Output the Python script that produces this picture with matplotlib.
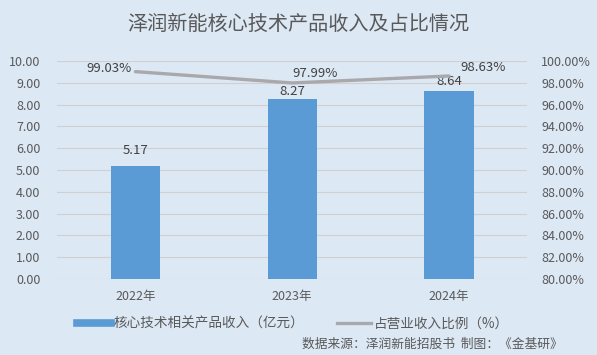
import numpy as np
import matplotlib
matplotlib.use('Agg')
import matplotlib.pyplot as plt
from matplotlib.lines import Line2D

plt.rcParams['font.family'] = ['Noto Sans CJK SC', 'DejaVu Sans']

years = ['2022年', '2023年', '2024年']
revenue = [5.17, 8.27, 8.64]
share = [99.03, 97.99, 98.63]

bg = '#DDE8F5'
bar_color = '#5B9BD5'
line_color = '#A9A9AB'
text_color = '#595959'

fig = plt.figure(figsize=(5.97, 3.55), dpi=100, facecolor=bg)
ax = fig.add_axes([0.0955, 0.214, 0.788, 0.614], facecolor=bg)
x = np.arange(len(years))

ax.bar(x, revenue, width=0.315, color=bar_color, zorder=2)
ax.set_ylim(0, 10)
ax.set_xlim(-0.5, 2.5)
ax.set_yticks(np.arange(0, 11, 1))
ax.set_yticklabels([f'{v:.2f}' for v in np.arange(0, 11, 1)])
ax.set_xticks(x)
ax.set_xticklabels(years)
ax.grid(axis='y', color='#D0D0D0', linewidth=0.8, zorder=0)
for s in ax.spines.values():
    s.set_visible(False)
ax.tick_params(length=0, colors=text_color, labelsize=9)
ax.tick_params(axis='y', pad=12)
ax.tick_params(axis='x', pad=8)

# bar labels (offsets in points, as placed in the original)
bar_offsets = [(0, 11.5), (0, 5), (0, 6.5)]
for xi, v, off in zip(x, revenue, bar_offsets):
    ax.annotate(f'{v:.2f}', (xi, v), xytext=off, textcoords='offset points',
                ha='center', va='center', fontsize=9.5, color='#404040')

ax2 = ax.twinx()
ax2.plot(x, share, color=line_color, linewidth=2.4, zorder=3, solid_capstyle='round')
ax2.set_ylim(80, 100)
ax2.set_yticks(np.arange(80, 101, 2))
ax2.set_yticklabels([f'{v:.2f}%' for v in np.arange(80, 101, 2)])
for s in ax2.spines.values():
    s.set_visible(False)
ax2.tick_params(length=0, colors=text_color, labelsize=9, pad=10)

line_offsets = [((-3, 2.5), 'right'), ((16.5, 7), 'center'), ((8.5, 6), 'left')]
for xi, v, (off, ha) in zip(x, share, line_offsets):
    ax2.annotate(f'{v:.2f}%', (xi, v), xytext=off, textcoords='offset points',
                 ha=ha, va='center', fontsize=9.5, color='#404040')

fig.text(0.5, 0.93, '泽润新能核心技术产品收入及占比情况', ha='center', va='center',
         fontsize=14.5, color=text_color)

handles = [Line2D([0], [0], color=bar_color, linewidth=5.5),
           Line2D([0], [0], color=line_color, linewidth=2.4)]
labels = ['核心技术相关产品收入（亿元）', '占营业收入比例（%）']
fig.legend(handles, labels, loc='center', bbox_to_anchor=(0.49, 0.088), ncol=2, frameon=False,
           fontsize=9.8, labelcolor=text_color, handlelength=2.5, handletextpad=0.2,
           columnspacing=2.4)

fig.text(0.943, 0.03, '数据来源：泽润新能招股书  制图：《金基研》', ha='right', va='center',
         fontsize=9.2, color=text_color)

fig.savefig('out.png', dpi=100, facecolor=bg)
